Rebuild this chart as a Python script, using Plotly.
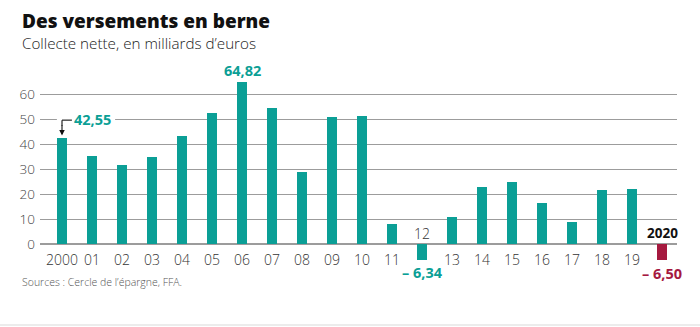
import plotly.graph_objects as go

# ---- data ----
years = list(range(2000, 2021))
labels = ["2000", "01", "02", "03", "04", "05", "06", "07", "08", "09", "10",
          "11", "12", "13", "14", "15", "16", "17", "18", "19", "2020"]
values = [42.55, 35.4, 31.8, 34.7, 43.1, 52.3, 64.82, 54.3, 28.7, 50.7, 51.4,
          7.9, -6.34, 11.0, 22.7, 24.7, 16.3, 8.7, 21.8, 22.2, -6.50]
highlight = {2000: "42,55", 2006: "64,82", 2012: "\u2013 6,34", 2020: "\u2013 6,50"}
yticks = [0, 10, 20, 30, 40, 50, 60]

TEAL = "#0b9f96"
RED = "#a5193f"
GRID = "#9c9c9c"
FAM = "Open Sans, sans-serif"

colors = [RED if y == 2020 else TEAL for y in years]

fig = go.Figure()
fig.add_trace(go.Bar(x=years, y=values, marker=dict(color=colors, line=dict(width=0)),
                     width=0.34, hoverinfo="x+y"))


def lf(size, color):
    return dict(family=FAM, size=size, color=color, weight=300)


def bf(size, color, w=700):
    return dict(family=FAM, size=size, color=color, weight=w)


annotations = []
for yr, lab, v in zip(years, labels, values):
    neg = v < 0
    bold = yr == 2020
    annotations.append(dict(
        x=yr, y=0, xref="x", yref="y", text=lab,
        showarrow=False, yanchor="middle", xanchor="center",
        yshift=11 if neg else -15,
        font=bf(13.5, "#111111") if bold else lf(14, "#333333")))

for yr, v in zip(years, values):
    if yr not in highlight:
        continue
    col = RED if yr == 2020 else TEAL
    if yr == 2000:
        annotations.append(dict(x=yr + 1.03, y=v, xref="x", yref="y", yshift=18,
                                text=highlight[yr], showarrow=False,
                                xanchor="center", yanchor="middle", bgcolor="white",
                                font=bf(14.5, col)))
        annotations.append(dict(x=yr, y=v + 0.9, ax=0, ay=-12, xref="x", yref="y",
                                text="", showarrow=True, arrowhead=2, arrowsize=1,
                                arrowwidth=1.1, arrowcolor="#111111"))
    elif v >= 0:
        annotations.append(dict(x=yr, y=v, xref="x", yref="y", yshift=11,
                                text=highlight[yr], showarrow=False,
                                xanchor="center", yanchor="middle", font=bf(14.5, col)))
    else:
        annotations.append(dict(x=yr, y=v, xref="x", yref="y", yshift=-13,
                                text=highlight[yr], showarrow=False,
                                xanchor="center", yanchor="middle", font=bf(14.5, col)))

annotations.append(dict(x=20 / 700, y=1 - 43 / 327, xref="paper", yref="paper",
                        text="Collecte nette, en milliards d\u2019euros", showarrow=False,
                        xanchor="left", yanchor="middle", align="left",
                        font=lf(15.2, "#222222")))
annotations.append(dict(x=20 / 700, y=1 - 282 / 327, xref="paper", yref="paper",
                        text="Sources : Cercle de l\u2019\u00e9pargne, FFA.", showarrow=False,
                        xanchor="left", yanchor="middle", align="left",
                        font=lf(10.5, "#555555")))

W, H = 700, 327
L, R, T, B = 40, 23, 69, 58
pw, ph = W - L - R, H - T - B
for a in annotations:
    if a.get("xref") == "paper":
        a["x"] = (a["x"] * W - L) / pw
        a["y"] = ((a["y"] * H) - B) / ph

shapes = [
    dict(type="rect", xref="x", yref="y", x0=years[0] - 0.17, x1=years[0] + 1.77,
         y0=47.8, y1=51.8, fillcolor="white", line=dict(width=0), layer="above"),
    dict(type="line", xref="x", yref="y", x0=years[0], x1=years[0] + 0.33,
         y0=values[0] + 7.0, y1=values[0] + 7.0, line=dict(color="#111111", width=1.1),
         layer="above"),
    dict(type="line", xref="x", yref="y", x0=years[0], x1=years[0],
         y0=values[0] + 7.0, y1=values[0] + 4.8, line=dict(color="#111111", width=1.1),
         layer="above"),
    dict(type="line", xref="paper", yref="paper", x0=-L / pw, x1=(W - L) / pw,
         y0=(-B + 2) / ph, y1=(-B + 2) / ph, line=dict(color="#ececec", width=2)),
]

fig.update_layout(
    width=W, height=H,
    margin=dict(l=L, r=R, t=T, b=B, pad=0),
    paper_bgcolor="white", plot_bgcolor="white",
    showlegend=False,
    title=dict(text="Des versements en berne", xref="container", yref="container",
               x=22 / W, y=1 - 21 / H, xanchor="left", yanchor="middle",
               font=bf(19, "#111111", 800)),
    xaxis=dict(range=[years[0] - 22 / 30, years[-1] + 0.5], showgrid=False,
               showticklabels=False, zeroline=False, showline=False, ticks="",
               fixedrange=True),
    yaxis=dict(range=[-10, 70], tickvals=yticks, showgrid=True, gridcolor=GRID,
               gridwidth=1.3, zeroline=True, zerolinecolor=GRID, zerolinewidth=1.6,
               showline=False, ticks="", ticklabelstandoff=4,
               tickfont=lf(13.5, "#444444"), fixedrange=True),
    annotations=annotations,
    shapes=shapes,
    bargap=0,
)

fig.write_html("out.html")
